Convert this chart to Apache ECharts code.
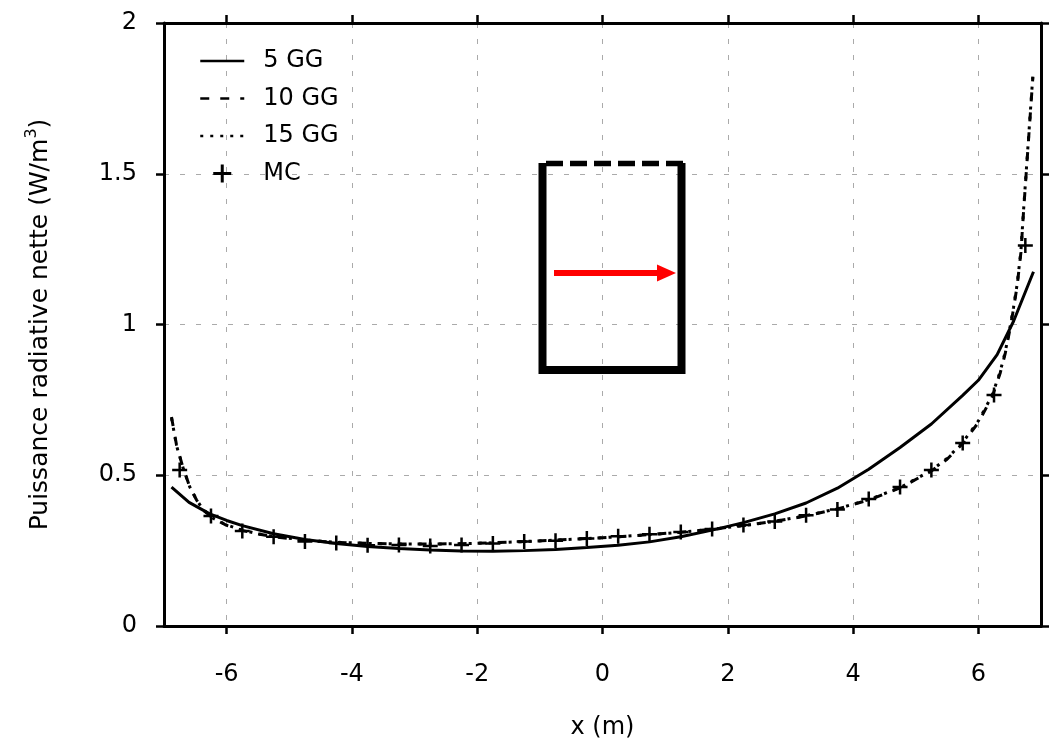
<!DOCTYPE html>
<html>
<head>
<meta charset="utf-8">
<script src="https://cdn.jsdelivr.net/npm/echarts@6/dist/echarts.min.js"></script>
<style>
  html, body { margin: 0; padding: 0; background: #ffffff; }
  #chart { width: 1060px; height: 743px; }
</style>
</head>
<body>
<div id="chart"></div>
<script>
// Tick positions of the x axis (m)
const xTicks = [-6, -4, -2, 0, 2, 4, 6];

// Series names
const seriesNames = ['5 GG', '10 GG', '15 GG', 'MC'];

// 5 GG: net radiative power along x
const gg5X = [-6.88, -6.6, -6.27, -6.0, -5.75, -5.25, -4.75, -4.25, -3.75, -3.25, -2.75, -2.25, -1.75, -1.25, -0.75, -0.25,
  0.25, 0.75, 1.25, 1.75, 2.25, 2.75, 3.25, 3.75, 4.25, 4.75, 5.25, 5.75, 6.0, 6.3, 6.56, 6.88];
const gg5Y = [0.461, 0.410, 0.372, 0.350, 0.333, 0.306, 0.287, 0.274, 0.264, 0.257, 0.252, 0.249, 0.248, 0.250, 0.254, 0.260,
  0.268, 0.279, 0.296, 0.318, 0.343, 0.372, 0.408, 0.457, 0.520, 0.592, 0.670, 0.765, 0.815, 0.900, 1.010, 1.175];

// 10 GG
const gg10X = [-6.88, -6.80, -6.70, -6.59, -6.48, -6.38, -6.22, -6.0, -5.75, -5.5, -5.25, -4.75, -4.25, -3.75, -3.25, -2.75,
  -2.25, -1.75, -1.25, -0.75, -0.25, 0.25, 0.75, 1.25, 1.75, 2.25, 2.75, 3.25, 3.75, 4.25, 4.75, 5.25, 5.5, 5.75, 6.0,
  6.22, 6.35, 6.43, 6.5, 6.56, 6.62, 6.68, 6.72, 6.77, 6.82, 6.87];
const gg10Y = [0.693, 0.600, 0.528, 0.462, 0.418, 0.386, 0.357, 0.334, 0.317, 0.305, 0.296, 0.284, 0.277, 0.274, 0.272, 0.272,
  0.273, 0.276, 0.280, 0.285, 0.290, 0.296, 0.303, 0.311, 0.321, 0.333, 0.347, 0.365, 0.388, 0.418, 0.458, 0.514, 0.553, 0.605, 0.675,
  0.760, 0.840, 0.905, 0.980, 1.050, 1.130, 1.240, 1.370, 1.520, 1.670, 1.820];

// 15 GG
const gg15X = [-6.88, -6.80, -6.70, -6.59, -6.48, -6.38, -6.22, -6.0, -5.75, -5.5, -5.25, -4.75, -4.25, -3.75, -3.25, -2.75,
  -2.25, -1.75, -1.25, -0.75, -0.25, 0.25, 0.75, 1.25, 1.75, 2.25, 2.75, 3.25, 3.75, 4.25, 4.75, 5.25, 5.5, 5.75, 6.0,
  6.22, 6.35, 6.43, 6.5, 6.56, 6.62, 6.68, 6.72, 6.77, 6.82, 6.87];
const gg15Y = [0.690, 0.598, 0.527, 0.462, 0.419, 0.387, 0.358, 0.335, 0.318, 0.306, 0.297, 0.285, 0.278, 0.274, 0.272, 0.272,
  0.273, 0.276, 0.280, 0.285, 0.290, 0.296, 0.303, 0.311, 0.321, 0.333, 0.347, 0.366, 0.389, 0.419, 0.459, 0.516, 0.556, 0.609, 0.680,
  0.765, 0.845, 0.910, 0.985, 1.055, 1.135, 1.245, 1.375, 1.525, 1.675, 1.825];

// Monte Carlo reference
const mcX = [-6.75, -6.25, -5.75, -5.25, -4.75, -4.25, -3.75, -3.25, -2.75, -2.25, -1.75, -1.25, -0.75, -0.25,
  0.25, 0.75, 1.25, 1.75, 2.25, 2.75, 3.25, 3.75, 4.25, 4.75, 5.25, 5.75, 6.25, 6.75];
const mcY = [0.517, 0.365, 0.315, 0.296, 0.280, 0.275, 0.268, 0.269, 0.265, 0.269, 0.274, 0.280, 0.283, 0.290,
  0.298, 0.304, 0.312, 0.322, 0.335, 0.347, 0.367, 0.386, 0.421, 0.461, 0.517, 0.607, 0.766, 1.262];

const zip = (xs, ys) => xs.map((x, i) => [x, ys[i]]);

const FONT = 'DejaVu Sans';
const FS = 24;
const PLUS = 'path://M5,0H7V5H12V7H7V12H5V7H0V5H5Z';

const frameLine = { show: true, onZero: false, lineStyle: { color: '#000', width: 3 } };
const gridLine = { show: true, lineStyle: { color: '#aaaaaa', width: 1, type: [5, 11] } };
const outerTick = { show: true, inside: false, length: 8, lineStyle: { color: '#000', width: 2.5 } };

// legend entries for the curves show only their line, no point symbol
const hiddenSymbol = { opacity: 0, color: 'rgba(0,0,0,0)', borderWidth: 0 };

const chart = echarts.init(document.getElementById('chart'), null, { renderer: 'canvas' });

chart.setOption({
  backgroundColor: '#ffffff',
  animation: false,
  grid: { left: 164, right: 19, top: 23, bottom: 117, containLabel: false, outerBoundsMode: 'none' },
  legend: {
    orient: 'vertical',
    left: 199,
    top: 49,
    padding: 0,
    itemWidth: 44,
    itemHeight: 18,
    itemGap: 13.5,
    lineStyle: { width: 2.5 },
    data: [
      { name: seriesNames[0], itemStyle: hiddenSymbol },
      { name: seriesNames[1], itemStyle: hiddenSymbol },
      { name: seriesNames[2], itemStyle: hiddenSymbol },
      { name: seriesNames[3] }
    ],
    textStyle: { fontFamily: FONT, fontSize: FS, lineHeight: 24, color: '#000', padding: [0, 0, 0, 14] }
  },
  xAxis: [
    {
      type: 'value', min: -7, max: 7, position: 'bottom',
      axisLine: frameLine,
      axisTick: Object.assign({ customValues: xTicks }, outerTick),
      axisLabel: { customValues: xTicks, margin: 37, fontFamily: FONT, fontSize: FS, color: '#000' },
      splitLine: gridLine,
      name: 'x (m)', nameLocation: 'middle', nameGap: 90,
      nameTextStyle: { fontFamily: FONT, fontSize: FS, color: '#000' }
    },
    {
      type: 'value', min: -7, max: 7, position: 'top',
      axisLine: frameLine,
      axisTick: Object.assign({ customValues: xTicks }, outerTick),
      axisLabel: { show: false },
      splitLine: { show: false }
    }
  ],
  yAxis: [
    {
      type: 'value', min: 0, max: 2, interval: 0.5, position: 'left',
      axisLine: frameLine,
      axisTick: outerTick,
      axisLabel: { margin: 27, fontFamily: FONT, fontSize: FS, color: '#000' },
      splitLine: gridLine,
      name: 'Puissance radiative nette (W/m{sup|3})', nameLocation: 'middle', nameGap: 108, nameRotate: 90,
      nameTextStyle: {
        fontFamily: FONT, fontSize: 25, lineHeight: 32, color: '#000',
        rich: { sup: { fontFamily: FONT, fontSize: 16, lineHeight: 16, verticalAlign: 'top', color: '#000' } }
      }
    },
    {
      type: 'value', min: 0, max: 2, interval: 0.5, position: 'right',
      axisLine: frameLine,
      axisTick: outerTick,
      axisLabel: { show: false },
      splitLine: { show: false }
    }
  ],
  series: [
    {
      name: seriesNames[0], type: 'line', data: zip(gg5X, gg5Y),
      symbol: 'none', showSymbol: false, smooth: false,
      lineStyle: { color: '#000', width: 3, type: 'solid' }, itemStyle: { color: '#000' }, z: 3
    },
    {
      name: seriesNames[1], type: 'line', data: zip(gg10X, gg10Y),
      symbol: 'none', showSymbol: false, smooth: false,
      lineStyle: { color: '#000', width: 3, type: [9, 11] }, itemStyle: { color: '#000' }, z: 3
    },
    {
      name: seriesNames[2], type: 'line', data: zip(gg15X, gg15Y),
      symbol: 'none', showSymbol: false, smooth: false,
      lineStyle: { color: '#000', width: 3, type: [3, 7] }, itemStyle: { color: '#000' }, z: 3
    },
    {
      name: seriesNames[3], type: 'scatter', data: zip(mcX, mcY),
      symbol: PLUS, symbolSize: 15, symbolKeepAspect: true,
      itemStyle: { color: '#000', opacity: 1 }, z: 4
    }
  ],
  graphic: [
    // cavity walls: left, bottom and right solid, open (dashed) top
    {
      type: 'polyline', z: 10,
      shape: { points: [[542.5, 163], [542.5, 370], [681.5, 370], [681.5, 163]] },
      style: { stroke: '#000', lineWidth: 8, fill: null, lineJoin: 'miter', lineCap: 'butt' }
    },
    {
      type: 'line', z: 10,
      shape: { x1: 546, y1: 163.5, x2: 683, y2: 163.5 },
      style: { stroke: '#000', lineWidth: 5.5, lineDash: [17, 7], lineCap: 'butt' }
    },
    // direction of the x axis
    {
      type: 'line', z: 10,
      shape: { x1: 554, y1: 273, x2: 660, y2: 273 },
      style: { stroke: '#ff0000', lineWidth: 6, lineCap: 'butt' }
    },
    {
      type: 'polygon', z: 10,
      shape: { points: [[657, 264.5], [676, 273], [657, 281.5]] },
      style: { fill: '#ff0000', stroke: null }
    }
  ]
});
</script>
</body>
</html>
